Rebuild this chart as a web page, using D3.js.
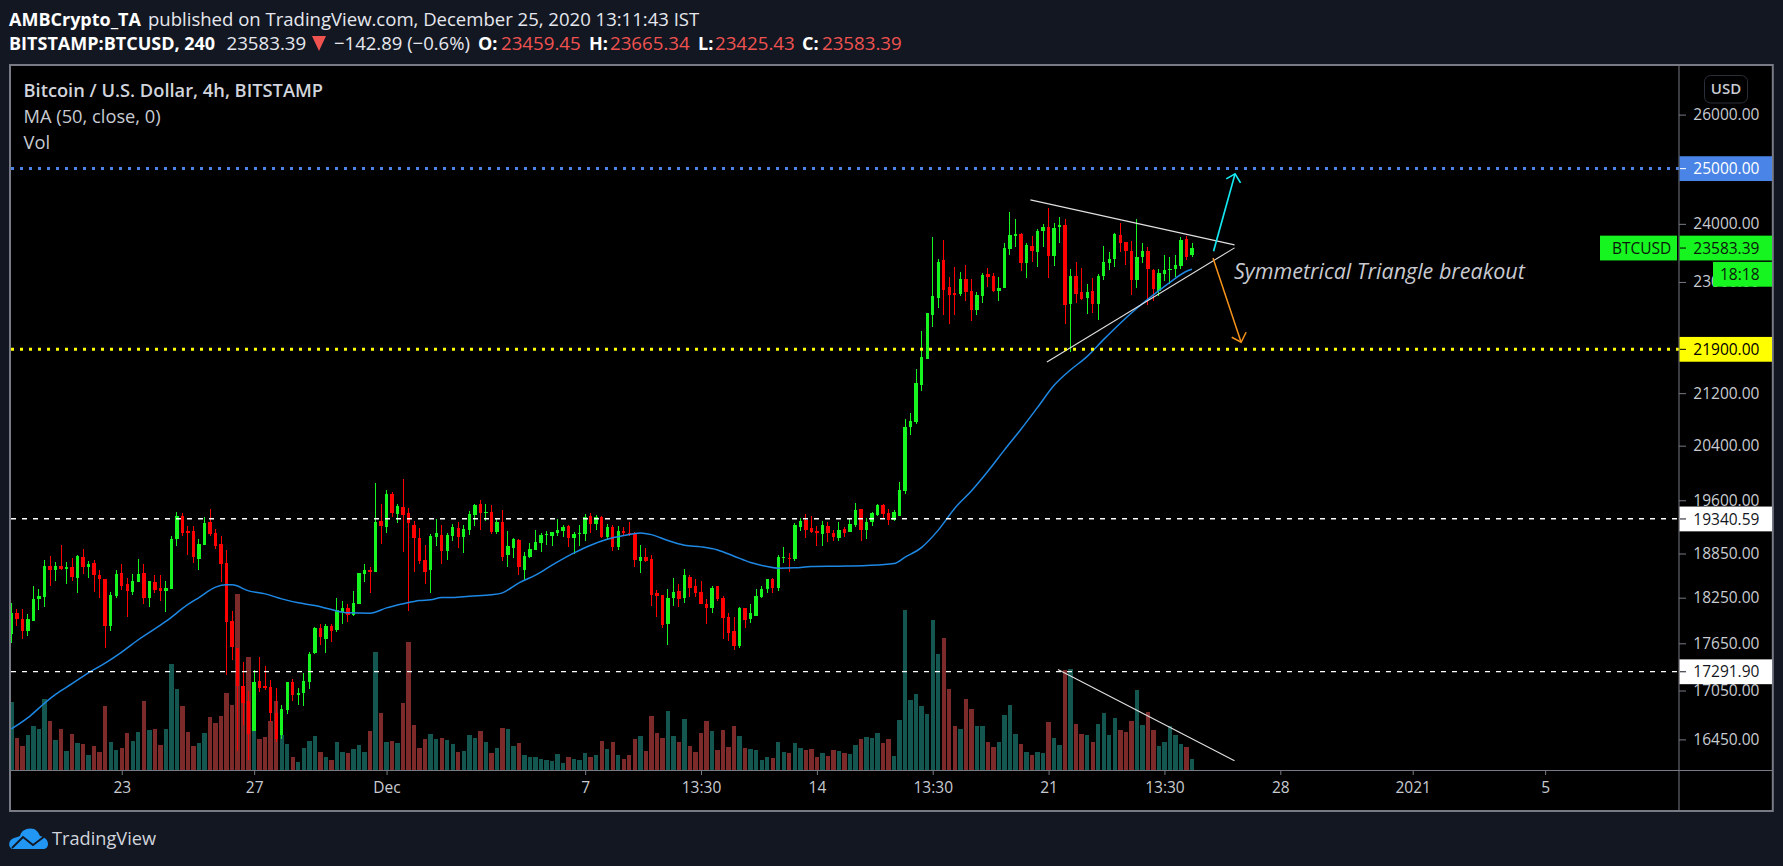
<!DOCTYPE html>
<html><head><meta charset="utf-8">
<style>html,body{margin:0;padding:0;background:#131722;overflow:hidden}svg{display:block}text{font-family:"Open Sans",sans-serif}</style>
<script src="https://cdn.jsdelivr.net/npm/d3@7/dist/d3.min.js"></script>
</head><body><svg id="c" width="1783" height="866"></svg>
<script>
const highs=[18181,18101,18101,18035,18413,18368,18767,18822,18739,18974,
18739,18794,18836,18919,18753,18767,18617,18508,18332,18630,
18699,18521,18576,18781,18712,18468,18549,18549,18468,19099,
19438,19424,19240,19240,19058,19367,19481,19197,19099,18905,
18079,17584,17405,17039,17303,17468,17354,17177,17077,16872,
17152,17190,17077,17266,17533,17856,17896,17896,17896,18239,
18212,18159,18346,18589,18699,18671,19855,19552,19754,19725,
19552,19914,19495,19310,19211,18974,19127,19339,19254,19141,
19268,19296,19254,19452,19552,19610,19552,19538,19353,19466,
19169,19072,19058,18877,19002,19183,19141,19169,19155,19339,
19254,19254,19155,19254,19410,19424,19395,19381,19268,19254,
19240,19225,19296,19155,18974,18932,18836,18359,18292,18373,
18521,18440,18644,18562,18495,18481,18226,18400,18413,18279,
18040,17987,18132,18106,18172,18373,18413,18495,18521,18836,
18946,18863,19282,19353,19410,19381,19240,19310,19296,19183,
19296,19225,19339,19566,19481,19353,19438,19552,19552,19481,
19466,19857,20796,20887,21571,22180,22489,23778,23398,23725,
23089,23261,23175,23289,23056,22839,23158,23244,23158,23089,
23673,24216,24094,23848,23673,23795,23918,24006,24288,24023,
24112,24077,23227,23346,23244,22957,23074,23142,23622,23518,
23848,24023,23690,23708,24094,23673,23604,23227,23227,23466,
23432,23466,23778,23795,23665.34];
const lows=[17653,17873,17700,17743,17935,18092,18132,18400,18481,18617,
18440,18481,18319,18576,18521,18332,18252,17584,17804,18252,
18359,17987,18292,18454,18159,18132,18319,18212,18053,18373,
18960,19099,18836,18726,18617,18974,19099,18919,18454,17240,
17430,16307,16620,16200,16548,17027,17052,16657,16415,16452,
16755,16915,16872,16859,17064,17506,17623,17520,17661,17791,
17896,17922,18013,18172,18454,18319,18603,18988,19141,19367,
19282,18877,18079,18603,18712,18440,18319,18960,18712,18767,
19030,18932,18863,19113,19240,19183,19310,19127,19127,18753,
18658,18794,18549,18481,18794,18905,18877,18974,18960,19099,
19085,18946,18850,18960,19030,19141,19183,19072,19044,18891,
18905,19113,19099,18671,18589,18739,18145,17987,17843,17623,
18145,18132,18185,18265,18265,18159,17896,18040,18212,17700,
17674,17558,17584,17843,17908,18000,18239,18306,18306,18346,
18726,18603,18753,19169,19072,19141,18960,18960,19016,19030,
19030,19085,19155,19225,19030,19058,19240,19381,19339,19254,
19310,19381,19684,20553,20720,21226,21730,22245,22572,22457,
22294,22457,22772,22689,22343,22457,22655,22922,22839,22689,
22890,23466,23604,23193,23074,23346,23261,23604,23074,23278,
23673,22310,21853,22640,22690,22459,22475,22360,23040,23210,
23261,23518,23295,22773,22906,23329,22607,22673,22756,23024,
22973,23091,23227,23380,23425.43];
const opens=[17765,18048,17961,17804,17935,18226,18265,18685,18630,18685,
18644,18671,18521,18808,18671,18726,18562,18508,17869,18279,
18589,18427,18332,18454,18589,18252,18454,18386,18346,18373,
19058,19381,19169,19169,18781,18974,19296,19141,18988,18726,
17935,17584,17102,16915,16548,17165,17102,17089,16767,16500,
16804,17152,16989,17014,17152,17520,17843,17700,17869,17817,
18066,18119,18026,18172,18576,18630,18603,19310,19225,19696,
19410,19509,19424,19254,19072,18767,18617,19085,19113,18891,
19099,19211,19085,19183,19395,19552,19424,19438,19155,19296,
18836,18932,19044,18630,18808,18905,19002,19103,19099,19141,
19169,19240,19072,19118,19127,19381,19268,19367,19085,19225,
18946,19169,19141,19127,18753,18808,18781,18306,18292,17896,
18239,18346,18252,18535,18400,18332,18172,18106,18400,18239,
17987,17804,17610,18106,17961,18013,18265,18373,18495,18386,
18794,18794,18781,19225,19325,19211,19169,19127,19240,19141,
19072,19197,19155,19254,19481,19183,19296,19395,19538,19424,
19325,19381,19727,20674,20750,21335,21730,22457,22739,23381,
22922,22822,22805,23056,22856,22539,22772,23141,23107,22856,
22890,23570,23795,23830,23329,23622,23518,23866,23953,23449,
23953,23971,22623,23108,22839,22723,22856,22623,23108,23329,
23398,23813,23690,23535,23040,23432,23535,23210,22856,23142,
23210,23227,23278,23743,23459.45];
const closes=[18048,17961,17804,17961,18226,18279,18685,18617,18685,18644,
18671,18535,18822,18658,18712,18549,18508,17869,18292,18576,
18413,18346,18468,18576,18252,18468,18359,18346,18386,19058,
19381,19141,19141,18808,18988,19282,19127,18960,18712,17922,
17597,17102,16891,16512,17152,17077,17077,16767,16460,16822,
17152,16989,17014,17165,17506,17843,17726,17869,17804,18092,
18119,18026,18185,18589,18630,18603,19296,19240,19696,19424,
19524,19395,19282,19072,18753,18603,19099,19141,18891,19113,
19225,19085,19197,19410,19538,19424,19438,19155,19296,18808,
18960,19058,18658,18822,18919,19016,19113,19122,19155,19183,
19225,19072,19127,19136,19367,19268,19367,19085,19225,18946,
19169,19141,19127,18767,18808,18753,18292,18279,17882,18252,
18332,18226,18549,18386,18319,18172,18106,18386,18226,17974,
17778,17610,18106,17948,18040,18279,18373,18495,18386,18808,
18808,18781,19254,19310,19183,19155,19141,19254,19141,19085,
19183,19141,19268,19466,19183,19296,19424,19538,19410,19325,
19438,19742,20674,20765,21366,21762,22489,22756,23346,22872,
22789,22789,23056,22839,22539,22789,23124,23089,22856,22906,
23587,23813,23830,23329,23639,23535,23883,23953,23449,23935,
23971,22607,23108,22790,22707,22839,22623,23108,23346,23398,
23830,23673,23535,23040,23432,23535,23227,22873,23159,23210,
23227,23295,23725,23432,23583.39];
const volumes=[2040,960,720,1050,1320,1230,2130,1470,900,1230,
570,1080,810,780,450,720,540,1920,840,600,
660,1110,870,1140,2070,1200,1230,750,1230,3180,
2430,1920,1140,720,810,1110,1590,1410,1620,2310,
1950,5280,2300,3390,1200,930,990,1470,2070,1050,
780,390,240,660,870,1020,540,390,300,840,
540,510,630,750,540,1170,3540,1710,840,870,
810,2010,3840,1350,660,930,1080,930,960,900,
780,540,570,1050,960,1170,840,510,660,1260,
1230,720,810,450,390,390,330,300,270,480,
210,390,330,300,510,390,450,870,630,840,
450,330,450,930,1020,570,1620,1110,960,1770,
1020,840,1530,720,540,1110,1470,1170,600,1200,
690,1320,1020,660,630,600,300,390,360,840,
540,510,810,660,600,630,390,510,420,600,
570,510,480,750,930,990,960,1110,810,930,
420,1500,4800,2100,2280,1920,1680,4500,3480,3960,
2430,1320,1230,2130,1830,1320,1320,840,690,840,
1650,1950,1080,780,540,450,540,510,1440,960,
750,3000,3030,1380,1080,1050,840,1380,1710,1050,
1560,1200,1140,1470,2400,1350,1740,1200,720,840,
1320,1050,780,690,330];
const maBars=[0,3,6,8,11,14,17,20,23,28,32,34,37,39,40,43,46,49,52,55,58,61,65,68,71,74,76,78,80,83,87,89,92,95,98,102,105,108,111,114,116,119,122,125,128,131,134,137,139,142,145,150,155,160,162,165,168,171,174,177,180,183,186,189,192,195,198,201,204,207,210,213,214];
const maValues=[16576,16714,16892,17002,17135,17274,17396,17537,17696,17935,18159,18252,18391,18422,18422,18341,18301,18234,18181,18146,18092,18048,18044,18114,18168,18212,18221,18252,18252,18270,18288,18314,18449,18553,18690,18858,18965,19048,19099,19136,19113,19030,18965,18942,18900,18813,18726,18671,18649,18653,18671,18676,18685,18712,18799,18936,19176,19486,19735,20022,20337,20648,20980,21322,21566,21779,22052,22315,22560,22783,22994,23180,23214];
const priceTicks=[26000,24000,23000,21200,20400,19600,18850,18250,17650,17050,16450];
const timeTickBars=[20,44,68,104,125,146,167,188,209,230,254,278];
const timeTickLabels=["23","27","Dec","7","13:30","14","13:30","21","13:30","28","2021","5"];
const priceLevels=[25000,21900,19340.59,17291.90];
const levelColors=["#4a84e6","#ffff00","#ffffff","#ffffff"];
const levelText=["#ffffff","#000000","#131722","#131722"];
const upperTrend=[[184.7,24425],[221.7,23633]];
const lowerTrend=[[187.7,21691],[221.7,23581]];
const volumeTrend=[[189.7,17313],[221.7,16194]];
const cyanArrow=[[217.9,23522],[221.8,24895]];
const cyanHead=[[220.2,24804],[221.8,24895],[222.8,24731]];
const orangeArrow=[[217.8,23408],[222.9,22006]];
const orangeHead=[[221.2,22087],[222.9,22006],[223.8,22168]];
const lastPrice=23583.39;

const svg=d3.select("#c");
const x=d3.scaleLinear().domain([0,230]).range([11.4,1280.3]);
const y=d3.scaleLog().domain([16450,26000]).range([739.4,114.6]);
const v=d3.scaleLinear().domain([0,4800]).range([770,610]);
const FF='"Open Sans",sans-serif';
const GRN="#16f51f",RED="#ff0000",TEAL="#145650",MAROON="#7c2a2a",AX="#787b86";

svg.append("rect").attr("width",1783).attr("height",866).attr("fill","#131722");
svg.append("rect").attr("x",10).attr("y",65).attr("width",1762.8).attr("height",746).attr("fill","#000").attr("stroke",AX).attr("stroke-width",2);

const defs=svg.append("defs");
defs.append("clipPath").attr("id","plot").append("rect").attr("x",11).attr("y",66).attr("width",1668).attr("height",704);
const plot=svg.append("g").attr("clip-path","url(#plot)");

// volume
plot.append("g").attr("shape-rendering","crispEdges").selectAll("rect").data(volumes).join("rect")
 .attr("x",(d,i)=>x(i)-2.2).attr("width",4.4).attr("y",d=>v(d)).attr("height",d=>v(0)-v(d))
 .attr("fill",(d,i)=>closes[i]>=opens[i]?TEAL:MAROON);

// levels
const lvl=svg.append("g");
priceLevels.forEach((p,k)=>{
  lvl.append("line").attr("x1",11).attr("x2",1679).attr("y1",y(p)+.3).attr("y2",y(p)+.3)
   .attr("stroke",levelColors[k]).attr("stroke-width",k<2?3:1.4).attr("stroke-dasharray",k<2?"3 6":"5 6");
});

// candles
const idx=d3.range(opens.length);
const colorOf=i=>closes[i]>=opens[i]?GRN:RED;
plot.append("g").attr("shape-rendering","crispEdges").selectAll("line").data(idx).join("line")
 .attr("x1",i=>x(i)).attr("x2",i=>x(i)).attr("y1",i=>y(highs[i])).attr("y2",i=>y(lows[i]))
 .attr("stroke",colorOf).attr("stroke-width",1);
plot.append("g").attr("shape-rendering","crispEdges").selectAll("rect").data(idx).join("rect")
 .attr("x",i=>x(i)-1.7).attr("width",3.4)
 .attr("y",i=>y(Math.max(opens[i],closes[i])))
 .attr("height",i=>Math.max(1,Math.abs(y(opens[i])-y(closes[i]))))
 .attr("fill",colorOf);

// moving average
const ln=d3.line().x(d=>x(d[0])).y(d=>y(d[1]));
plot.append("path").attr("d",d3.line().x(d=>x(d[0])).y(d=>y(d[1])).curve(d3.curveMonotoneX)(maBars.map((b,i)=>[b,maValues[i]])))
 .attr("fill","none").attr("stroke","#1e88e5").attr("stroke-width",1.5);

// drawings
const stroke=(pts,c,w)=>plot.append("path").attr("d",ln(pts)).attr("fill","none").attr("stroke",c).attr("stroke-width",w);
stroke(upperTrend,"#e0e0e0",1.1);stroke(lowerTrend,"#e0e0e0",1.1);stroke(volumeTrend,"#e0e0e0",1.1);
stroke(cyanArrow,"#14e8f0",1.7);stroke(cyanHead,"#14e8f0",1.7);
stroke(orangeArrow,"#f7931a",1.5);stroke(orangeHead,"#f7931a",1.5);
svg.append("text").attr("x",1234).attr("y",279).attr("font-size",21.5).attr("font-style","italic")
 .attr("fill","#c8cad0").attr("font-family",FF).text("Symmetrical Triangle breakout");

// axes
const yAxis=d3.axisRight(y).tickValues(priceTicks).tickFormat(d3.format(".2f")).tickSize(7);
const gy=svg.append("g").attr("transform","translate(1679,0)").call(yAxis);
gy.select(".domain").remove();
svg.append("line").attr("x1",1679).attr("x2",1679).attr("y1",66).attr("y2",811).attr("stroke",AX).attr("stroke-width",1);
gy.selectAll("line").attr("stroke",AX);
gy.selectAll("text").attr("x",14.3).attr("fill","#c8cbd2").attr("font-size",15.5).attr("font-family",FF);

const xAxis=d3.axisBottom(x).tickValues(timeTickBars).tickFormat((d,i)=>timeTickLabels[i]).tickSize(5);
const gx=svg.append("g").attr("transform","translate(0,770)").call(xAxis);
gx.select(".domain").remove();
svg.append("line").attr("x1",11).attr("x2",1772).attr("y1",770.5).attr("y2",770.5).attr("stroke",AX).attr("stroke-width",1);
gx.selectAll("line").attr("stroke",AX);
gx.selectAll("text").attr("y",12).attr("fill","#c8cbd2").attr("font-size",15.5).attr("font-family",FF);

// price label boxes
const box=(x0,x1,yc,fill,txt,color,anchorX)=>{
  svg.append("rect").attr("x",x0).attr("y",yc-12.4).attr("width",x1-x0).attr("height",24.8).attr("fill",fill);
  svg.append("text").attr("x",anchorX).attr("y",yc+5.6).attr("fill",color).attr("font-size",15.5).attr("font-family",FF).text(txt);
};
priceLevels.forEach((p,k)=>{
  box(1679.5,1772,y(p)+.5,levelColors[k],d3.format(".2f")(p),levelText[k],1693.3);
  svg.append("line").attr("x1",1680).attr("x2",1686).attr("y1",y(p)+.5).attr("y2",y(p)+.5).attr("stroke",levelText[k]).attr("stroke-width",1);
});
box(1679.5,1772,y(lastPrice)+.3,GRN,d3.format(".2f")(lastPrice),"#0b1a0b",1693.3);
svg.append("line").attr("x1",1680).attr("x2",1686).attr("y1",y(lastPrice)+.3).attr("y2",y(lastPrice)+.3).attr("stroke","#000");
box(1600,1677,y(lastPrice)+.3,GRN,"BTCUSD","#0b1a0b",1612);
box(1713,1772,274.3,GRN,"18:18","#0b1a0b",1720);

// USD button
svg.append("rect").attr("x",1704.5).attr("y",75.5).attr("width",43).attr("height",27.5).attr("rx",6).attr("fill","#000").attr("stroke","#2a2e39");
svg.append("text").attr("x",1726).attr("y",94).attr("text-anchor","middle").attr("fill","#c8cbd2").attr("font-size",15).attr("font-weight",600).attr("font-family",FF).text("USD");

// legends
const tx=(xp,yp,s,size,col,w)=>svg.append("text").attr("x",xp).attr("y",yp).attr("font-size",size).attr("fill",col).attr("font-weight",w||400).attr("font-family",FF).text(s);
tx(23.5,96.5,"Bitcoin / U.S. Dollar, 4h, BITSTAMP",18.3,"#d1d4dc",600);
tx(23.5,123,"MA (50, close, 0)",18.3,"#c8cbd2");
tx(23.5,149,"Vol",18.3,"#c8cbd2");

// header
tx(9,25.5,"AMBCrypto_TA",18,"#ffffff",700);
tx(148,25.5,"published on TradingView.com, December 25, 2020 13:11:43 IST",18.55,"#e6e8ee");
tx(9,50,"BITSTAMP:BTCUSD, 240",18,"#ffffff",700);
tx(226.5,50,"23583.39",18.7,"#e6e8ee");
svg.append("path").attr("d","M312 36H326L319 51Z").attr("fill","#ef5350");
tx(334,50,"\u2212142.89 (\u22120.6%)",18.5,"#e6e8ee");
tx(478,50,"O:",18,"#ffffff",700);tx(501,50,"23459.45",18.7,"#ef5350");
tx(589,50,"H:",18,"#ffffff",700);tx(610,50,"23665.34",18.7,"#ef5350");
tx(698,50,"L:",18,"#ffffff",700);tx(715,50,"23425.43",18.7,"#ef5350");
tx(802,50,"C:",18,"#ffffff",700);tx(822,50,"23583.39",18.7,"#ef5350");

// logo
const lg=svg.append("g").attr("transform","translate(9,828)");
lg.append("path").attr("d","M3 21C-1 19 -1 12 5 10C8 9 9 9 11 8C12 2 19 -1 25 1C29 3 30 6 31 8C36 9 39 12 39 16C39 19 37 21 34 21Z").attr("fill","#2196f3");
lg.append("path").attr("d","M3 20L14 9L24 17L36 8").attr("fill","none").attr("stroke","#131722").attr("stroke-width",1.8);
tx(52,845,"TradingView",18.2,"#d1d4dc");
</script></body></html>
